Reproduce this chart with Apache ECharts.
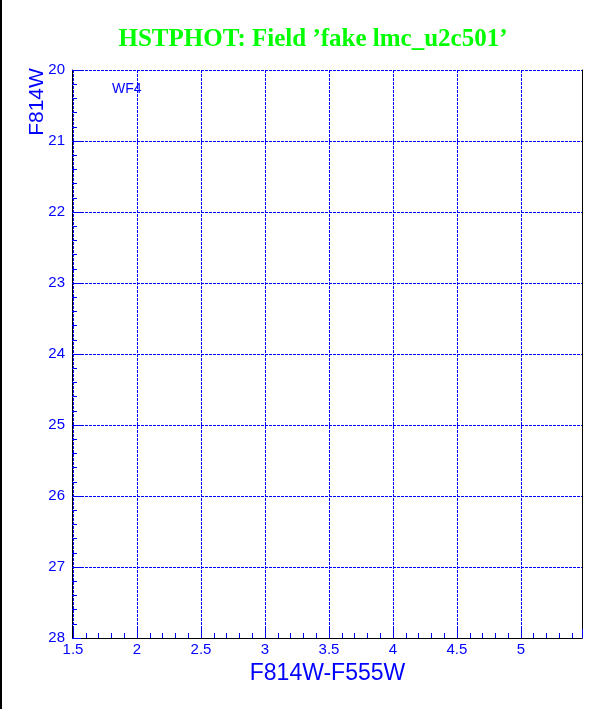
<!DOCTYPE html>
<html>
<head>
<meta charset="utf-8">
<script src="https://cdn.jsdelivr.net/npm/echarts@6/dist/echarts.min.js"></script>
<style>
html,body{margin:0;padding:0;background:#fff;}
#chart{width:612px;height:709px;}
</style>
</head>
<body>
<div id="chart"></div>
<script>
const titleText = "HSTPHOT: Field \u2019fake lmc_u2c501\u2019";
const xName = "F814W-F555W";
const yName = "F814W";
const chipLabel = "WF4";
const xRange = [1.5, 5.477];
const yRange = [20, 28];
const points = []; // no stars plotted in this field

const blue = '#0000ff';
const chart = echarts.init(document.getElementById('chart'), null, {renderer: 'canvas'});
const gridL = 73, gridT = 70, gridW = 509, gridH = 568;
chart.setOption({
  animation: false,
  backgroundColor: '#ffffff',
  title: {
    text: titleText, left: 308, top: 22, textAlign: 'center',
    textStyle: {color: '#00ff00', fontFamily: 'Liberation Serif', fontWeight: 'bold', fontSize: 25}
  },
  grid: {left: gridL, top: gridT, width: gridW, height: gridH},
  xAxis: [{
    type: 'value', min: xRange[0], max: xRange[1], interval: 0.5,
    name: xName, nameLocation: 'middle', nameGap: 16,
    nameTextStyle: {color: blue, fontFamily: 'Liberation Sans', fontSize: 23},
    axisLine: {show: true, onZero: false, lineStyle: {color: '#000', width: 1}},
    axisTick: {show: true, inside: true, length: 9, lineStyle: {color: blue}},
    minorTick: {show: true, splitNumber: 5, length: 5, lineStyle: {color: blue}},
    axisLabel: {color: blue, fontFamily: 'Liberation Sans', fontSize: 15, margin: 4,
      showMaxLabel: false, formatter: v => String(v)},
    splitLine: {show: true, lineStyle: {color: blue, type: [3, 1], width: 1}}
  }],
  yAxis: [{
    type: 'value', min: yRange[0], max: yRange[1], interval: 1, inverse: true,
    offset: 1,
    axisLine: {show: true, onZero: false, lineStyle: {color: '#000', width: 1}},
    axisTick: {show: true, inside: true, length: 9, lineStyle: {color: blue}},
    minorTick: {show: true, splitNumber: 5, length: 5, lineStyle: {color: blue}},
    axisLabel: {color: blue, fontFamily: 'Liberation Sans', fontSize: 15, margin: 7},
    splitLine: {show: true, lineStyle: {color: blue, type: [3, 1], width: 1}}
  }, {
    type: 'value', min: yRange[0], max: yRange[1], inverse: true, position: 'right',
    axisLine: {show: true, onZero: false, lineStyle: {color: '#000', width: 1}},
    axisTick: {show: false}, axisLabel: {show: false}, splitLine: {show: false}
  }],
  series: [{
    type: 'scatter', data: points, symbolSize: 2, itemStyle: {color: '#000'}
  }],
  graphic: [
    {type: 'rect', shape: {x: 0, y: 0, width: 2, height: 709}, style: {fill: '#000'}},
    {type: 'text', x: 37, y: 102, rotation: Math.PI / 2,
      style: {text: yName, fill: blue, font: '21px "Liberation Sans"', align: 'center', verticalAlign: 'middle'}},
    {type: 'text', x: 112, y: 89,
      style: {text: chipLabel, fill: blue, font: '14px "Liberation Sans"', align: 'left', verticalAlign: 'middle'}}
  ]
});
</script>
</body>
</html>
